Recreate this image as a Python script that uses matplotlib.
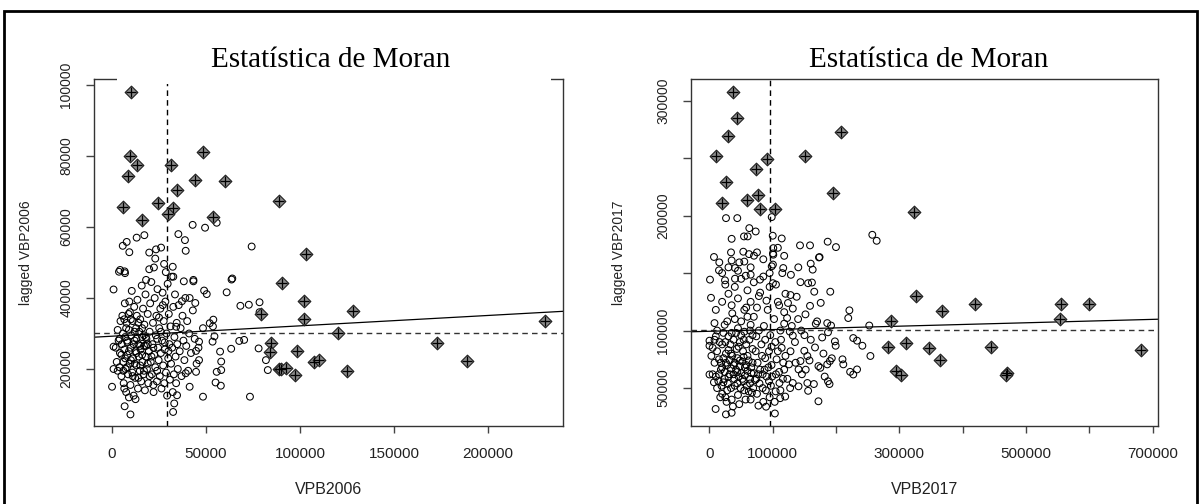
import numpy as np
import matplotlib.pyplot as plt
from matplotlib.patches import Rectangle

# diagramas de dispersao de Moran
# pontos comuns 2006: (VPB2006, lagged VBP2006)
circ06 = np.array([
    (73400,12200),(48400,12200),(9800,7200),(32500,7900),(6700,9500),(0,15000),(800,20000),
    (800,26300),(800,42400),(3700,47400),(6700,47500),(63600,45200),(61000,41600),(49000,42100),
    (50400,41100),(72800,38100),(78500,38800),(78500,36000),(68300,37800),(70300,28200),
    (67700,27900),(63400,25700),(57500,24900),(58100,22100),(58100,19700),(55700,19200),
    (55100,16200),(57900,15300),(78000,25800),(81900,22500),(82900,19700),(53900,33900),
    (52000,32900),(53700,32000),(48400,31500),(54500,29200),(53500,27700),(46300,27700),
    (44700,25100),(46300,22500),(44700,19200),(41300,15000),(39200,18800),(34600,12600),
    (33100,10300),(38200,44700),(43300,44700),(37200,39100),(41300,40000),(44300,38600),
    (34100,31900),(42900,60600),(49500,59800),(55700,61200),(74300,54500),(35300,58000),
    (38800,56300),(39200,53300),(17200,57700),(13100,57000),(7800,55800),(5700,54700),
    (9200,52900),(19800,52800),(23400,53700),(26100,54200),(23000,51100),(27700,49600),
    (32300,48800),(19800,48100),(22300,48600),(4300,47900),(6900,47000),(28600,47300),
    (32600,46000),(43300,45100),(64000,45500),(18100,45100),
    (2000,26000),(2500,22000),(3000,31000),(3500,28000),(4000,20500),(4200,24500),(4500,33500),
    (5000,18000),(5200,27000),(5500,35000),(5800,30000),(6000,22000),(6200,16000),(6500,25500),
    (6800,38500),(7000,29000),(7200,20000),(7500,13500),(7800,33000),(8000,24000),(8200,27500),
    (8500,18500),(8800,35500),(9000,31000),(9200,39000),(9500,21500),(9800,15500),(10000,26000),
    (10200,29500),(10500,42000),(10800,19000),(11000,33500),(11200,23000),(11500,12500),
    (11800,37500),(12000,28000),(12300,17500),(12500,25000),(12800,31500),(13000,21000),
    (13200,35000),(13500,39500),(13800,14500),(14000,27000),(14200,23500),(14500,30500),
    (14800,19500),(15000,34000),(15200,25500),(15500,16500),(15800,43500),(16000,29000),
    (16200,22000),(16500,37000),(16800,18500),(17000,26500),(17200,32500),(17500,14000),
    (17800,41000),(18000,23500),(18300,28500),(18600,20000),(19000,35500),(19300,16000),
    (19600,25000),(20000,30500),(20300,38500),(20600,22000),(20900,44500),(21200,18500),
    (21500,27000),(21800,33000),(22100,13500),(22400,24000),(22700,40000),(23000,20500),
    (23300,29500),(23600,35000),(23900,16500),(24200,42500),(24500,26000),(24800,22500),
    (25100,31500),(25400,18000),(25700,37000),(26000,24500),(26300,14500),(26600,28000),
    (26900,41500),(27200,21000),(27500,33500),(27800,16000),(28100,25500),(28400,39000),
    (28700,19000),(29000,30000),(29300,12500),(29600,44000),(29900,23000),(30200,35500),
    (30500,27000),(30800,17000),(31100,32000),(31400,21500),(31700,46000),(32000,26000),
    (32300,13500),(32600,37500),(32900,18500),(33200,29000),(33500,41000),(33800,23500),
    (34100,16000),(34400,33000),(34700,27000),(35000,20000),(35500,38000),(36000,25000),
    (36500,31500),(37000,18000),(37500,35000),(38000,28000),(38500,22500),(39000,40000),
    (39500,26500),(40000,33500),(40500,19500),(41000,30000),(42000,24500),(43000,36500),
    (44000,28500),(45000,21500),(46000,26000),
    (6000,19500),(7000,23000),(8000,20500),(9000,25000),(10000,22500),(11000,18000),
    (12000,21500),(13000,24500),(14000,17500),(15000,21000),(16000,24000),(17000,19500),
    (18000,26500),(19000,21500),(20000,18000),(21000,23500),(12000,30500),(14000,33000),
    (16000,31500),(18000,29000),(10000,34000),(13000,28500),(15000,26500),(17000,29500),
    (19000,27000),(22000,26000),(24000,28500),(26000,30500),(28000,27500),(30000,25000),
    (8000,28000),(9500,36000),(11500,27000),(7500,31500),(6500,34000),(5000,24000),
    (4000,28500),(3000,19500),(6500,14500),(9000,12000),(12500,11500),(25000,34500),
    (27000,38000),(24000,19500),(22000,15500),
])
# pontos influentes 2006
diam06 = np.array([
    (10000,98000),(9600,80000),(13500,77400),(8300,74500),(5700,65500),(16000,62000),
    (24300,66700),(31400,77400),(34400,70400),(32300,65400),(30000,63800),(48600,81000),
    (44200,73200),(60100,73000),(53900,62900),(89000,67300),(103000,52300),(90300,44100),
    (102200,39100),(102200,34150),(79500,35600),(128000,36200),(230300,33400),(120500,30100),
    (84600,27300),(84100,24900),(173200,27300),(98200,25100),(88600,20000),(90000,19900),
    (92700,20200),(97200,18300),(107300,22100),(110400,22500),(124800,19400),(189000,22300),
])
media_x06, media_wx06, incl06 = 29500, 30100, 0.0292

# pontos comuns 2017: (VPB2017, lagged VBP2017)
circ17 = np.array([
    (26100,197800),(43900,197800),(35000,179800),(62900,189100),(73000,186200),(54500,181900),
    (60300,181900),(99900,182500),(114100,180100),(98300,198700),(143000,174100),(158800,174100),
    (186700,177300),(199800,172600),(257200,183300),(264100,178100),(173000,163600),
    (100800,171700),(100800,166000),(140300,155000),(159900,158200),(163000,153000),
    (7100,164000),(15500,159300),(34000,168000),(53400,168600),(62400,166500),(70300,165100),
    (35000,161000),(47100,159300),(40300,154400),(15000,152400),(800,144300),(24500,143700),
    (40300,145100),(57200,147700),(65000,148600),(79800,144300),(98300,155900),
    (2400,128500),(7900,106500),(0,91200),(0,86800),(0,61800),(9700,31800),(26000,27100),
    (35000,28500),(77300,34700),(89400,33800),(103300,27900),(172100,38500),(155800,47600),
    (140700,51500),(190800,133800),(173900,163900),(143700,142100),(155800,141200),
    (161800,141800),(165500,133800),(175700,124100),(158800,121500),(151600,114100),
    (167900,105900),(186000,106500),(192000,104400),(219200,110900),(221000,117600),
    (227100,93500),(233100,91200),(241500,86800),(252400,104400),(254200,77900),(233100,66200),
    (227100,61800),(222200,64100),(211400,70600),(210100,75000),(198100,90600),(199300,86800),
    (187200,98500),(193200,75900),(190200,73500),(186000,70600),(187200,55900),(189600,53500),
    (172100,69100),(175100,67600),(166700,85300),(149800,82400),(154600,77900),(143700,73500),
    (140700,66200),(164900,53500),(154600,54400),(131600,54400),(127400,50000),(119600,42600),
    (111700,41200),(104500,47100),(110500,54400),(116500,72100),(125600,70600),(131600,95600),
    (126800,99100),(131600,119100),(122600,110900),(128000,130900),(137700,129400),
    (128600,148500),(116500,154400),(100200,167100),(100200,157400),(100200,141200),
    (5000,85000),(8000,92000),(10000,60000),(12000,100000),(15000,75000),(18000,66000),
    (20000,88000),(22000,55000),(24000,105000),(26000,72000),(28000,48000),(30000,95000),
    (32000,62000),(34000,80000),(36000,115000),(38000,70000),(40000,52000),(42000,98000),
    (44000,64000),(46000,86000),(48000,74000),(50000,108000),(52000,58000),(54000,92000),
    (56000,68000),(58000,120000),(60000,78000),(62000,47000),(64000,100000),(66000,63000),
    (68000,84000),(70000,112000),(72000,57000),(74000,95000),(76000,72000),(78000,130000),
    (80000,66000),(82000,88000),(84000,50000),(86000,104000),(88000,76000),(90000,60000),
    (92000,118000),(94000,82000),(96000,96000),(98000,70000),(102000,110000),(104000,90000),
    (106000,75000),(108000,125000),(110000,64000),(112000,100000),(114000,85000),
    (116000,58000),(118000,106000),(120000,78000),
    (15000,62000),(18000,72000),(20000,68000),(22000,76000),(24000,64000),(26000,80000),
    (28000,70000),(30000,60000),(32000,74000),(34000,67000),(36000,78000),(38000,62000),
    (40000,72000),(42000,66000),(44000,76000),(46000,60000),(48000,69000),(50000,63000),
    (52000,73000),(54000,77000),(56000,61000),(58000,70000),(60000,65000),(62000,74000),
    (64000,58000),(66000,68000),(68000,72000),(70000,63000),(35000,98000),(45000,102000),
    (55000,99000),(65000,105000),(40000,110000),(50000,96000),(60000,112000),(25000,90000),
    (30000,83000),(10000,95000),(5000,62000),(12000,50000),(20000,45000),(25000,42000),
    (35000,40000),(45000,44000),(55000,48000),(65000,40000),(75000,45000),(85000,38000),
    (95000,42000),
    (10000,118000),(20000,125000),(25000,140000),(30000,132000),(35000,122000),(40000,138000),
    (45000,128000),(50000,145000),(55000,118000),(60000,135000),(65000,125000),(70000,142000),
    (75000,120000),(80000,133000),(85000,147000),(90000,126000),(95000,138000),(105000,140000),
    (110000,122000),(115000,150000),(120000,132000),(20000,150000),(30000,155000),
    (45000,152000),(55000,160000),(65000,155000),(75000,168000),(85000,162000),(95000,150000),
    (108000,172000),(118000,165000),
    (12000,82000),(16000,90000),(22000,98000),(28000,108000),(33000,88000),(38000,92000),
    (43000,84000),(48000,90000),(53000,82000),(58000,88000),(63000,92000),(68000,96000),
    (73000,82000),(78000,100000),(83000,78000),(88000,92000),(93000,68000),(98000,86000),
    (14000,56000),(19000,52000),(24000,58000),(29000,54000),(34000,50000),(39000,58000),
    (44000,54000),(49000,50000),(54000,56000),(59000,52000),(64000,54000),(69000,50000),
    (74000,58000),(79000,54000),(84000,62000),(89000,48000),(94000,56000),(99000,60000),
    (105000,62000),(112000,48000),(118000,66000),(123000,58000),(128000,82000),(135000,90000),
    (145000,100000),(150000,96000),(160000,92000),(170000,108000),(180000,80000),
    (140000,110000),(8000,72000),(3000,78000),(7000,55000),(17000,42000),(27000,38000),
    (37000,34000),(47000,36000),(57000,40000),(67000,46000),(77000,62000),(87000,66000),
    (97000,52000),(103000,38000),(108000,82000),(113000,92000),(118000,116000),
    (124000,124000),(130000,104000),(136000,72000),(146000,62000),(152000,66000),
    (158000,74000),(178000,94000),(182000,60000),
])
# pontos influentes 2017
diam17 = np.array([
    (37600,307200),(43000,285200),(29700,269300),(10300,251400),(90300,249000),(73500,240600),
    (150900,251400),(207300,272500),(25600,228800),(19300,210800),(59700,213700),
    (77100,218100),(79800,205600),(103500,205600),(194600,219500),(323100,203000),
    (326100,130000),(419100,123500),(555600,123500),(600200,123500),(554300,110300),
    (367100,116800),(286800,107900),(281400,85900),(309800,89400),(346600,84700),
    (363500,74700),(444400,85300),(681200,82900),(294700,64700),(301900,61200),
    (469800,62900),(468600,61200),
])
media_x17, media_wx17, incl17 = 96000, 100800, 0.0148

xt06 = [0, 50000, 100000, 150000, 200000]
xl06 = ['0', '50000', '100000', '150000', '200000']
yt06 = [20000, 40000, 60000, 80000, 100000]
yl06 = ['20000', '40000', '60000', '80000', '100000']
xt17 = [0, 100000, 200000, 300000, 400000, 500000, 600000, 700000]
xl17 = ['0', '100000', '', '300000', '', '500000', '', '700000']
yt17 = [50000, 100000, 150000, 200000, 250000, 300000]
yl17 = ['50000', '100000', '', '200000', '', '300000']

plt.rcParams['font.family'] = ['Liberation Sans', 'DejaVu Sans']
W, H = 1202, 504
fig = plt.figure(figsize=(W/100, H/100), dpi=100)

def painel(pos, circ, diam, mx, mwx, b, xlim, ylim, xt, xl, yt, yl, xlab, ylab, ylab_x):
    ax = fig.add_axes(pos)
    ax.scatter(circ[:, 0], circ[:, 1], s=24, facecolors='none', edgecolors='black', linewidths=0.75)
    ax.scatter(diam[:, 0], diam[:, 1], marker='D', s=42, facecolors='#8a8a8a',
               edgecolors='#222222', linewidths=0.8, zorder=3)
    ax.scatter(diam[:, 0], diam[:, 1], marker='+', s=60, color='black', linewidths=0.9, zorder=4)
    ax.axvline(mx, color='black', lw=1, ls=(0, (4, 3)))
    ax.axhline(mwx, color='#333333', lw=1, ls=(0, (4, 3)))
    ax.axline((mx, mwx), slope=b, color='black', lw=0.9)
    ax.set_xlim(xlim)
    ax.set_ylim(ylim)
    ax.set_xticks(xt)
    ax.set_xticklabels(xl, fontsize=11, color='#222222')
    ax.set_yticks(yt)
    ax.set_yticklabels(yl, fontsize=10, rotation=90, va='center', color='#222222')
    ax.tick_params(axis='x', length=5, width=1, color='#444444', pad=10)
    ax.tick_params(axis='y', length=6, width=1, color='#444444', pad=9)
    for s in ax.spines.values():
        s.set_color('#333333')
        s.set_linewidth(1)
    ax.set_xlabel(xlab, fontsize=11.5, color='#222222')
    ax.xaxis.set_label_coords(0.5, -0.16)
    ax.set_ylabel(ylab, fontsize=10, color='#222222')
    ax.yaxis.set_label_coords(ylab_x, 0.5)
    return ax

painel([94/W, 1-426/H, 469/W, 347/H], circ06, diam06, media_x06, media_wx06, incl06,
       (-9600, 240000), (3944, 101690), xt06, xl06, yt06, yl06, 'VPB2006', 'lagged VBP2006', -0.13)
painel([691/W, 1-426/H, 467/W, 347/H], circ17, diam17, media_x17, media_wx17, incl17,
       (-29200, 708500), (17000, 318800), xt17, xl17, yt17, yl17, 'VPB2017', 'lagged VBP2017', -0.14)

# caixa branca do titulo sobre a borda superior do painel esquerdo
fig.add_artist(Rectangle((117/W, 1-84/H), 434/W, 10/H, transform=fig.transFigure,
                         facecolor='white', edgecolor='none', zorder=5))
fig.text(331/W, 1-67/H, 'Estatística de Moran', family='Liberation Serif', fontsize=21,
         ha='center', va='baseline', zorder=6)
fig.text(929/W, 1-67/H, 'Estatística de Moran', family='Liberation Serif', fontsize=21,
         ha='center', va='baseline', zorder=6)

# moldura
fig.add_artist(Rectangle((4/W, -0.01), 1193/W, 1-11/H+0.01, transform=fig.transFigure,
                         fill=False, edgecolor='black', linewidth=2, zorder=7))

fig.savefig('out.png', dpi=100)
